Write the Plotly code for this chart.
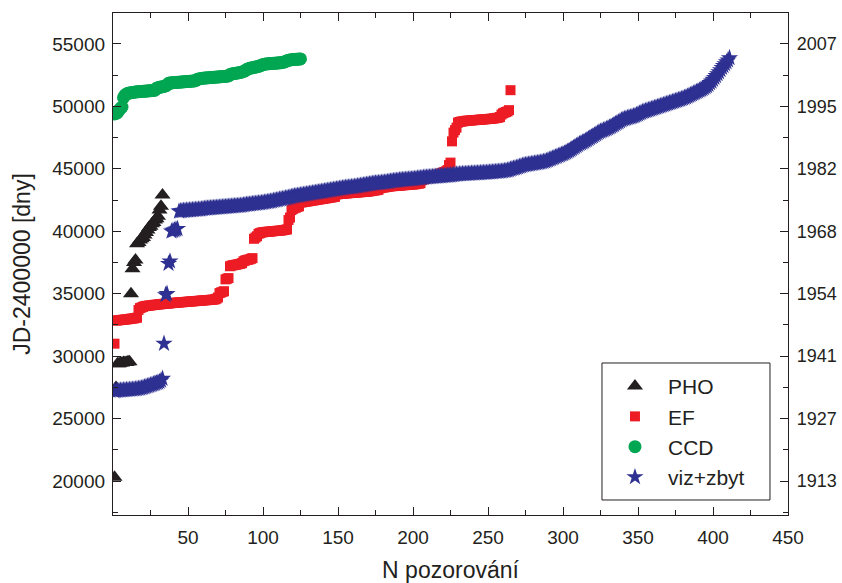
import plotly.graph_objects as go

# ---------------- data ----------------
pho = [20300, 27500, 29400, 29400, 29450, 29450, 29500, 29500, 29500, 29550,
       29550, 35000, 37000, 37500, 37700, 39000, 39100, 39300, 39400, 39500,
       39700, 39900, 40100, 40300, 40400, 40600, 40700, 40900, 41000, 41200,
       41700, 42000, 42900]

ef = [31000,
      32850, 32860, 32880, 32900, 32900, 32920, 32930, 32950, 32960, 32980,
      33000, 33010, 33030, 33050, 33080,
      33700, 33850, 33900, 33950,
      34000, 34020, 34030, 34050, 34060, 34080, 34100, 34110, 34120, 34140,
      34150, 34160, 34180, 34190, 34200, 34210, 34220, 34230, 34250, 34260,
      34270, 34280, 34290, 34300, 34310, 34320, 34330, 34340, 34350, 34360,
      34370, 34380, 34390, 34400, 34410, 34420, 34430, 34440, 34450, 34460,
      34470, 34480, 34490, 34500, 34510, 34520, 34530, 34550,
      34600, 34700,
      35050, 35100, 35150, 35200,
      36150, 36200, 36250,
      37200, 37250, 37280, 37300, 37320, 37350, 37380, 37400, 37450,
      37600, 37650, 37700, 37720, 37750, 37800, 37850,
      39400, 39500, 39600,
      39800, 39850, 39900, 39920, 39940, 39950, 39960, 39970, 39980, 40000,
      40010, 40020, 40030, 40040, 40050, 40060, 40080, 40100, 40120, 40150,
      40900, 41100,
      41700, 41800, 41850, 41900, 41950, 42000,
      42300, 42320, 42340, 42360, 42380, 42400, 42420, 42440, 42460, 42480,
      42500, 42520, 42540, 42560, 42580, 42600, 42620, 42640, 42660, 42680,
      42700, 42720, 42740, 42760,
      42950, 42970, 42990, 43000, 43010, 43020, 43030, 43040, 43050, 43060,
      43070, 43080, 43090, 43100, 43110, 43120, 43130, 43140, 43150, 43160,
      43170, 43180, 43200, 43220, 43240, 43260, 43280, 43300, 43320,
      43450, 43480, 43500, 43520, 43540, 43560, 43580, 43600, 43610, 43620,
      43630, 43640, 43650, 43660, 43670, 43680, 43690, 43700, 43710, 43720,
      43730, 43740, 43750, 43760, 43780, 43800, 43820, 43850,
      44100, 44150, 44200, 44250, 44280, 44300, 44330, 44360, 44400, 44450,
      44500, 44550, 44600, 44650, 44700, 44750, 44800, 44900,
      45300, 45500,
      47200,
      47900, 48100, 48300,
      48700, 48750, 48780, 48800, 48820, 48840, 48850, 48860, 48870, 48880,
      48890, 48900, 48910, 48920, 48930, 48940, 48950, 48960, 48970, 48980,
      48990, 49000, 49010, 49020, 49040, 49060, 49080, 49100, 49150,
      49350, 49450, 49500, 49550, 49600, 49700,
      51300]

ccd = [49400, 49450, 49500,
       49700, 49850, 49950,
       50700, 50900, 51000,
       51050, 51080, 51100, 51120, 51140, 51160, 51170, 51180, 51190, 51200,
       51210, 51220, 51230, 51240, 51250, 51260, 51270, 51280, 51300,
       51450, 51500, 51530, 51560, 51580, 51600, 51650, 51700,
       51850, 51870, 51890, 51900, 51910, 51920, 51930, 51940, 51950, 51960,
       51970, 51980, 51990, 52000, 52010, 52020, 52030, 52040, 52060,
       52150, 52200, 52220, 52240, 52260, 52270, 52280, 52290, 52300, 52310,
       52320, 52330, 52340, 52350, 52360, 52370, 52380, 52390, 52400, 52410,
       52420, 52450,
       52550, 52600, 52620, 52640, 52660, 52680, 52700, 52720, 52760, 52800,
       52850,
       52950, 53000, 53050, 53080, 53100, 53120, 53150, 53180, 53200, 53250,
       53300,
       53350, 53380, 53400, 53410, 53420, 53430, 53440, 53450, 53460, 53470,
       53480, 53490, 53500, 53520, 53550, 53600,
       53650, 53700, 53720, 53740, 53750, 53760, 53770, 53780, 53790, 53800]

viz = [27200, 27220, 27240, 27250, 27260, 27270, 27280, 27290, 27300, 27310,
       27320, 27330, 27340, 27350, 27360, 27380, 27400, 27420, 27450, 27480,
       27520, 27560, 27600, 27640, 27680, 27720, 27760, 27800, 27850, 27900,
       27950, 28050, 28200,
       31000, 34900, 35000, 37400, 37600, 40000, 40050, 40100, 40150, 40200,
       41600, 41620, 41640, 41650, 41660, 41670, 41680, 41690, 41700, 41710,
       41720, 41730, 41740, 41750, 41760, 41780, 41800,
       41820, 41830, 41840, 41850, 41860, 41870, 41880, 41890, 41900, 41910,
       41920, 41930, 41940, 41950, 41960, 41970, 41980, 41990, 42000, 42010,
       42020, 42030, 42040, 42050, 42060,
       42080, 42100, 42120, 42140, 42150, 42160, 42180, 42200, 42210, 42220,
       42240, 42250, 42260, 42280, 42300,
       42320, 42340, 42360, 42380, 42400, 42420, 42450, 42480, 42500, 42520,
       42550, 42580, 42600, 42620, 42650, 42680, 42700, 42730, 42760, 42800,
       42820, 42840, 42860, 42880, 42900, 42920, 42940, 42960, 42980, 43000,
       43020, 43040, 43060, 43080, 43100, 43120, 43140, 43160, 43180, 43200,
       43220, 43240, 43260, 43280, 43300, 43320, 43340, 43360, 43380, 43400,
       43420, 43440, 43460, 43480, 43500, 43510, 43520, 43540, 43550, 43560,
       43580, 43600,
       43620, 43640, 43660, 43680, 43700, 43720, 43740, 43760, 43780, 43800,
       43820, 43840, 43850, 43860, 43870, 43880, 43900, 43910, 43920, 43940,
       43960, 43980, 44000,
       44020, 44040, 44050, 44060, 44080, 44100, 44110, 44120, 44130, 44140,
       44150, 44160, 44170, 44180, 44190, 44200, 44220, 44240, 44250, 44260,
       44280, 44300,
       44310, 44320, 44330, 44340, 44350, 44360, 44370, 44380, 44390, 44400,
       44410, 44420, 44430, 44440, 44450, 44460, 44470, 44480, 44500, 44510,
       44530, 44550,
       44560, 44570, 44580, 44590, 44600, 44600, 44610, 44620, 44620, 44630,
       44640, 44640, 44650, 44660, 44660, 44670, 44680, 44690, 44690, 44700,
       44710, 44720,
       44730, 44740, 44750, 44760, 44770, 44780, 44790, 44800, 44820, 44840,
       44860, 44880, 44910, 44950,
       45000, 45030, 45060, 45100, 45140, 45180, 45220, 45260, 45300, 45320,
       45340, 45360, 45380, 45400, 45420, 45440, 45460, 45480, 45500, 45520,
       45550, 45580, 45610, 45650,
       45700, 45750, 45800, 45850, 45900, 45950, 46000, 46050, 46100, 46150,
       46200, 46250, 46320, 46380,
       46450, 46520, 46600, 46680, 46760, 46840, 46920, 47000, 47060, 47120,
       47180, 47250, 47320, 47400, 47480,
       47550, 47620, 47700, 47780, 47860, 47940, 48000, 48050, 48100, 48150,
       48200, 48260, 48320, 48380, 48450, 48520, 48600, 48680,
       48750, 48820, 48900, 48960, 49000, 49040, 49080, 49120, 49150, 49180,
       49220, 49270, 49320,
       49380, 49440, 49500, 49560, 49600, 49640, 49680, 49720, 49760, 49800,
       49840, 49880, 49920, 49960, 50000, 50040, 50080, 50120,
       50160, 50200, 50240, 50280, 50320, 50360, 50400, 50440, 50480, 50520,
       50560, 50600, 50650, 50700, 50750, 50800, 50860, 50920,
       50980, 51040, 51100, 51160, 51220, 51280, 51340, 51400, 51480, 51560,
       51640, 51740, 51880,
       52000, 52150, 52300, 52450, 52600, 52750, 52920,
       53100, 53250, 53400, 53550, 53700, 53880]

x_ticks = [50, 100, 150, 200, 250, 300, 350, 400, 450]
y_ticks = [20000, 25000, 30000, 35000, 40000, 45000, 50000, 55000]
y_labels = ["20000", "25000", "30000", "35000", "40000", "45000", "50000", "55000"]
year_labels = ["1913", "1927", "1941", "1954", "1968", "1982", "1995", "2007"]

# ---------------- figure ----------------
FONT = "Liberation Sans, Arial, Helvetica, sans-serif"
INK = "#231f20"
C_PHO = "#231f20"
C_EF = "#ed1c24"
C_CCD = "#00a651"
C_VIZ = "#2e3192"

def idx(v):
    return list(range(1, len(v) + 1))

fig = go.Figure()
fig.add_trace(go.Scatter(x=idx(pho), y=pho, mode="markers", name="PHO",
                         marker=dict(symbol="triangle-up", size=14, color=C_PHO)))
fig.add_trace(go.Scatter(x=idx(ef), y=ef, mode="markers", name="EF",
                         marker=dict(symbol="square", size=10, color=C_EF)))
fig.add_trace(go.Scatter(x=idx(ccd), y=ccd, mode="markers", name="CCD",
                         marker=dict(symbol="circle", size=13, color=C_CCD)))
fig.add_trace(go.Scatter(x=idx(viz), y=viz, mode="markers", name="viz+zbyt",
                         marker=dict(symbol="star", size=13, color=C_VIZ)))
# empty trace to activate the right-hand (years) axis
fig.add_trace(go.Scatter(x=[None], y=[None], yaxis="y2", showlegend=False,
                         hoverinfo="skip"))

yr = [17280, 57480]
fig.update_layout(
    width=842, height=583,
    margin=dict(l=113, r=54, t=13, b=68),
    paper_bgcolor="white", plot_bgcolor="white",
    font=dict(family=FONT, size=19, color=INK),
    showlegend=True,
    legend=dict(x=0.7244, y=0.034, xanchor="left", yanchor="bottom",
                borderwidth=0, bgcolor="rgba(0,0,0,0)",
                font=dict(size=21, family=FONT), itemwidth=56,
                tracegroupgap=0),
    shapes=[dict(type="rect", xref="paper", yref="paper",
                 x0=0.7244, x1=0.9733, y0=0.0299, y1=0.3028,
                 line=dict(color=INK, width=1), fillcolor="white",
                 layer="below")],
    xaxis=dict(range=[0, 450], tickmode="array", tickvals=x_ticks,
               automargin=False,
               ticks="inside", ticklen=8, tickwidth=1, tickcolor=INK,
               showline=True, linecolor=INK, linewidth=1.3,
               mirror="ticks", showgrid=False, zeroline=False,
               minor=dict(tickmode="linear", tick0=0, dtick=25,
                          ticks="inside", ticklen=5, tickcolor=INK),
               title=dict(text="N pozorování", font=dict(size=23), standoff=16),
               tickfont=dict(size=19), ticklabelstandoff=5),
    yaxis=dict(range=yr, tickmode="array", tickvals=y_ticks, ticktext=y_labels,
               automargin=False,
               ticks="inside", ticklen=8, tickwidth=1, tickcolor=INK,
               showline=True, linecolor=INK, linewidth=1.3,
               showgrid=False, zeroline=False,
               minor=dict(tickmode="linear", tick0=0, dtick=2500,
                          ticks="inside", ticklen=5, tickcolor=INK),
               title=dict(text="JD-2400000 [dny]", font=dict(size=23), standoff=15),
               tickfont=dict(size=19), ticklabelstandoff=3),
    yaxis2=dict(range=yr, overlaying="y", side="right", anchor="x",
                automargin=False,
                tickmode="array", tickvals=y_ticks, ticktext=year_labels,
                ticks="inside", ticklen=8, tickwidth=1, tickcolor=INK,
                showline=True, linecolor=INK, linewidth=1.3,
                showgrid=False, zeroline=False,
                minor=dict(tickmode="linear", tick0=0, dtick=2500,
                           ticks="inside", ticklen=5, tickcolor=INK),
                tickfont=dict(size=18), ticklabelstandoff=4),
)

fig.write_html("out.html")
